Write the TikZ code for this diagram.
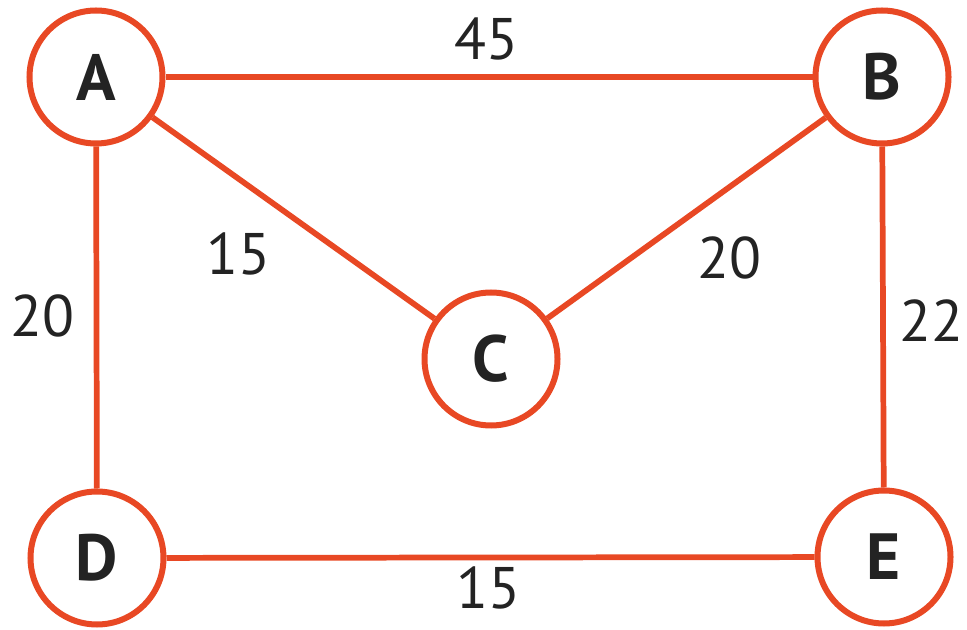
\documentclass[tikz,border=0pt]{standalone}
\usepackage{fontspec}
\setmainfont{PT Sans}
\definecolor{edgeorange}{RGB}{232,72,36}
\definecolor{labelgray}{RGB}{35,35,35}
\begin{document}
\begin{tikzpicture}[x=0.75pt,y=-0.75pt,
  vertex/.style={circle,draw=edgeorange,line width=4.5pt,fill=white,inner sep=0pt,
    minimum size=99.75pt,font=\fontsize{49}{50}\selectfont\bfseries,text=labelgray},
  link/.style={draw=edgeorange,line width=4.3pt},
  weight/.style={font=\fontsize{44}{46}\selectfont,text=labelgray,inner sep=0pt}]
\useasboundingbox (0,0) rectangle (967,630);
\node[vertex] (A) at (96,77) {A};
\node[vertex] (B) at (882,77) {B};
\node[vertex] (C) at (491,359) {C};
\node[vertex] (D) at (97,558) {D};
\node[vertex] (E) at (884,557) {E};
\draw[link] (A) -- (B);
\draw[link] (A) -- (C);
\draw[link] (B) -- (C);
\draw[link] (A) -- (D);
\draw[link] (B) -- (E);
\draw[link] (D) -- (E);
\node[weight] (wab) at (486,39) {45};
\node[weight] (wac) at (238,254) {15};
\node[weight] (wbc) at (729,258) {20};
\node[weight] (wad) at (42,316) {20};
\node[weight] (wbe) at (931,321) {22};
\node[weight] (wde) at (488,588) {15};
\end{tikzpicture}
\end{document}
